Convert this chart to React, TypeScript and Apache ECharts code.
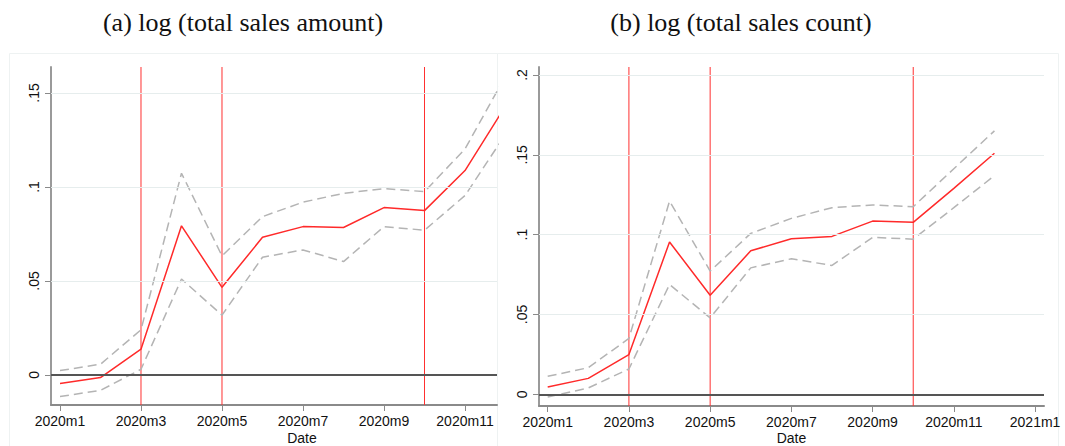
import React, { useEffect, useRef } from "react";
import * as echarts from "echarts";

const months = [1, 2, 3, 4, 5, 6, 7, 8, 9, 10, 11, 12];
const amountEst = [-0.0046, -0.0014, 0.0137, 0.0793, 0.0466, 0.0732, 0.0789, 0.0784, 0.089, 0.0874, 0.1087, 0.143];
const amountUpper = [0.0023, 0.0057, 0.024, 0.1073, 0.0633, 0.0842, 0.0919, 0.0966, 0.0991, 0.0975, 0.1202, 0.159];
const amountLower = [-0.0115, -0.0082, 0.003, 0.051, 0.0318, 0.0626, 0.0665, 0.0603, 0.0789, 0.077, 0.0954, 0.128];
const countEst = [0.0046, 0.01, 0.0249, 0.0954, 0.0621, 0.0899, 0.0974, 0.0989, 0.1085, 0.1077, 0.129, 0.151];
const countUpper = [0.0113, 0.0167, 0.035, 0.121, 0.0772, 0.1008, 0.1102, 0.1169, 0.1186, 0.1175, 0.1413, 0.165];
const countLower = [-0.0017, 0.004, 0.0159, 0.0688, 0.0479, 0.0792, 0.0849, 0.0807, 0.0983, 0.0972, 0.1169, 0.137];
const eventMonths = [3, 5, 10];
const leftTicksY = [0, 0.05, 0.1, 0.15];
const rightTicksY = [0, 0.05, 0.1, 0.15, 0.2];
const leftTicksX = [1, 3, 5, 7, 9, 11];
const rightTicksX = [1, 3, 5, 7, 9, 11, 13];
const titles = ["(a) log (total sales amount)", "(b) log (total sales count)"];

const fmtY = (v: number) => {
  if (Math.abs(v) < 1e-9) return "0";
  return String(Math.round(v * 100) / 100).replace(/^0/, "");
};
const fmtX = (v: number) => (v <= 12 ? `2020m${v}` : `2021m${v - 12}`);

const RED = "#ff2a2a";
const VRED = "#ff3030";
const GRAY = "#b4b4b4";
const FONT = "Liberation Sans";

export default function App() {
  const ref = useRef<HTMLDivElement>(null);
  useEffect(() => {
    if (!ref.current) return;
    const chart = echarts.init(ref.current, null, { renderer: "svg" });
    const zip = (arr: number[]) => months.map((m, i) => [m, arr[i]]);

    const ranges = [
      { xMin: 0.778, xMax: 11.79, yMin: -0.016, yMax: 0.1638 },
      { xMin: 0.786, xMax: 13.22, yMin: -0.0073, yMax: 0.205 },
    ];

    const mkX = (idx: number, ticks: number[]) => ({
      type: "value",
      gridIndex: idx,
      min: ranges[idx].xMin,
      max: ranges[idx].xMax,
      axisLine: { show: true, onZero: false, lineStyle: { color: "#8a8a8a", width: 2 } },
      axisTick: { show: true, length: 6, customValues: ticks, lineStyle: { color: "#8a8a8a", width: 1 } },
      axisLabel: { customValues: ticks, formatter: fmtX, color: "#111", fontSize: 14, fontFamily: FONT, margin: 9 },
      splitLine: { show: false },
    });
    const mkY = (idx: number, ticks: number[]) => ({
      type: "value",
      gridIndex: idx,
      min: ranges[idx].yMin,
      max: ranges[idx].yMax,
      axisLine: { show: true, lineStyle: { color: "#9a9a9a", width: 2 } },
      axisTick: { show: true, length: 6, customValues: ticks, lineStyle: { color: "#8a8a8a", width: 1 } },
      axisLabel: { customValues: ticks, formatter: fmtY, rotate: 90, color: "#111", fontSize: 14, fontFamily: FONT, margin: 10 },
      splitLine: { show: false },
    });

    const mkSeries = (idx: number, est: number[], up: number[], lo: number[], ticks: number[]) => [
      {
        type: "line",
        xAxisIndex: idx,
        yAxisIndex: idx,
        data: zip(lo),
        symbol: "none",
        z: 3,
        lineStyle: { color: GRAY, width: 1.5, type: [9, 5] },
        markLine: {
          silent: true,
          symbol: "none",
          label: { show: false },
          lineStyle: { color: "#e6eded", width: 1, type: "solid" },
          data: ticks.filter((t) => t !== 0).map((t) => ({ yAxis: t })),
        },
      },
      {
        type: "line",
        xAxisIndex: idx,
        yAxisIndex: idx,
        data: zip(up),
        symbol: "none",
        z: 3,
        lineStyle: { color: GRAY, width: 1.5, type: [9, 5] },
        markLine: {
          silent: true,
          symbol: "none",
          label: { show: false },
          lineStyle: { color: "#555", width: 2, type: "solid" },
          data: [{ yAxis: 0 }],
        },
      },
      ...eventMonths.map((m) => ({
        type: "line",
        xAxisIndex: idx,
        yAxisIndex: idx,
        data: [
          [m, ranges[idx].yMin],
          [m, ranges[idx].yMax],
        ],
        symbol: "none",
        silent: true,
        z: 2,
        lineStyle: { color: VRED, width: 1, type: "solid" },
      })),
      {
        type: "line",
        xAxisIndex: idx,
        yAxisIndex: idx,
        data: zip(est),
        symbol: "none",
        z: 4,
        lineStyle: { color: RED, width: 1.5 },
      },
    ];

    chart.setOption({
      animation: false,
      backgroundColor: "#fff",
      grid: [
        { left: 51, top: 67, width: 446, height: 338 },
        { left: 539, top: 67, width: 505, height: 339 },
      ],
      xAxis: [mkX(0, leftTicksX), mkX(1, rightTicksX)],
      yAxis: [mkY(0, leftTicksY), mkY(1, rightTicksY)],
      series: [
        ...mkSeries(0, amountEst, amountUpper, amountLower, leftTicksY),
        ...mkSeries(1, countEst, countUpper, countLower, rightTicksY),
      ],
      graphic: [
        { type: "rect", shape: { x: 9.5, y: 53.5, width: 488, height: 400 }, style: { fill: "none", stroke: "#eef2f2", lineWidth: 1 }, z: -1, silent: true },
        { type: "rect", shape: { x: 497.5, y: 53.5, width: 561, height: 400 }, style: { fill: "none", stroke: "#eef2f2", lineWidth: 1 }, z: -1, silent: true },
        { type: "text", x: 243, y: 22, style: { text: titles[0], font: "26px 'Liberation Serif', 'Times New Roman', serif", fill: "#111", textAlign: "center", textVerticalAlign: "middle" } },
        { type: "text", x: 741, y: 22, style: { text: titles[1], font: "26px 'Liberation Serif', 'Times New Roman', serif", fill: "#111", textAlign: "center", textVerticalAlign: "middle" } },
        { type: "text", x: 302, y: 438, style: { text: "Date", fontSize: 14, fontFamily: FONT, fill: "#111", textAlign: "center", textVerticalAlign: "middle" } },
        { type: "text", x: 791.5, y: 438, style: { text: "Date", fontSize: 14, fontFamily: FONT, fill: "#111", textAlign: "center", textVerticalAlign: "middle" } },
      ],
    });
    return () => chart.dispose();
  }, []);
  return <div ref={ref} style={{ position: "absolute", left: 0, top: 0, width: 1065, height: 446 }} />;
}
